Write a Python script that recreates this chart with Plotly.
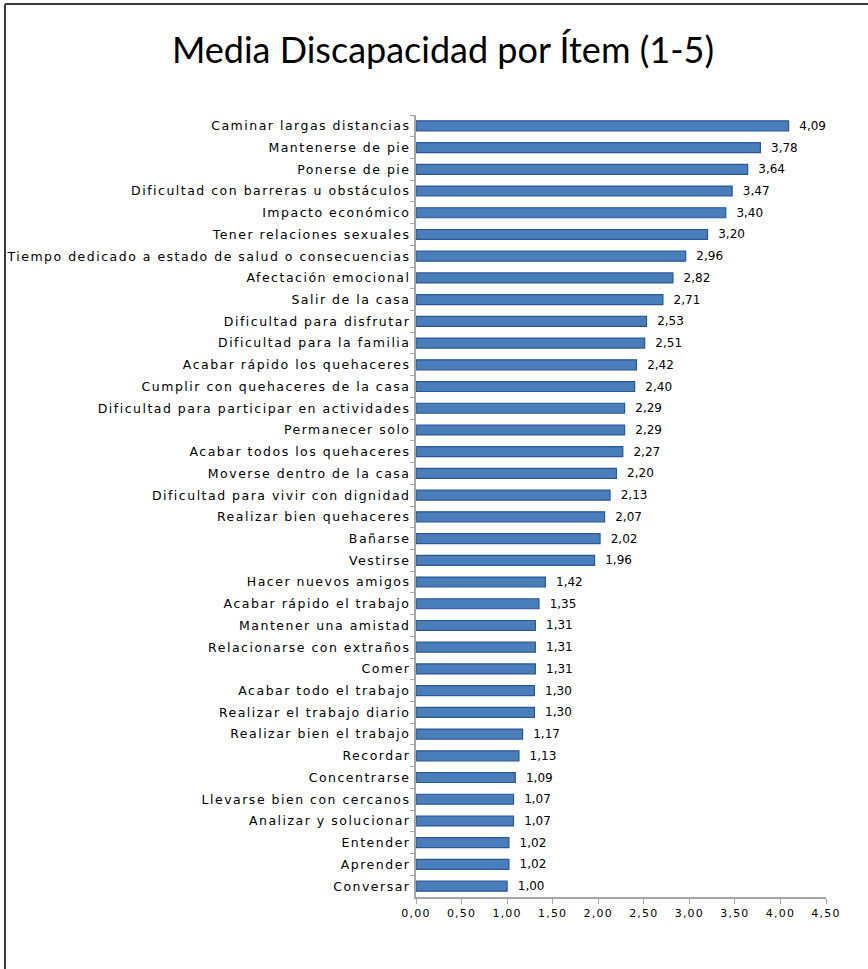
import plotly.graph_objects as go

categories = [
    "Caminar largas distancias", "Mantenerse de pie", "Ponerse de pie",
    "Dificultad con barreras u obstáculos", "Impacto económico",
    "Tener relaciones sexuales",
    "Tiempo dedicado a estado de salud o consecuencias",
    "Afectación emocional", "Salir de la casa", "Dificultad para disfrutar",
    "Dificultad para la familia", "Acabar rápido los quehaceres",
    "Cumplir con quehaceres de la casa",
    "Dificultad para participar en actividades", "Permanecer solo",
    "Acabar todos los quehaceres", "Moverse dentro de la casa",
    "Dificultad para vivir con dignidad", "Realizar bien quehaceres",
    "Bañarse", "Vestirse", "Hacer nuevos amigos", "Acabar rápido el trabajo",
    "Mantener una amistad", "Relacionarse con extraños", "Comer",
    "Acabar todo el trabajo", "Realizar el trabajo diario",
    "Realizar bien el trabajo", "Recordar", "Concentrarse",
    "Llevarse bien con cercanos", "Analizar y solucionar", "Entender",
    "Aprender", "Conversar",
]
values = [
    4.09, 3.78, 3.64, 3.47, 3.40, 3.20, 2.96, 2.82, 2.71, 2.53, 2.51, 2.42,
    2.40, 2.29, 2.29, 2.27, 2.20, 2.13, 2.07, 2.02, 1.96, 1.42, 1.35, 1.31,
    1.31, 1.31, 1.30, 1.30, 1.17, 1.13, 1.09, 1.07, 1.07, 1.02, 1.02, 1.00,
]
x_ticks = [0, 0.5, 1.0, 1.5, 2.0, 2.5, 3.0, 3.5, 4.0, 4.5]

W, H = 868, 969
L, R, T, B = 416, 42, 115, 72
pw = W - L - R
ph = H - T - B

fig = go.Figure(go.Bar(
    x=values, y=categories, orientation="h",
    width=0.46,
    marker=dict(color="#4A7EBB", line=dict(color="#2B5797", width=1.2)),
    texttemplate="  %{x:.2f}", textposition="outside", cliponaxis=False,
    constraintext="none",
    textfont=dict(family="DejaVu Sans", size=12, color="#000000"),
))

fig.update_layout(
    width=W, height=H,
    margin=dict(l=L, r=R, t=T, b=B, pad=0),
    paper_bgcolor="white", plot_bgcolor="white",
    separators=",.",
    showlegend=False,
    title=dict(text="Media Discapacidad por Ítem (1-5)",
               font=dict(family="Lato", size=36, color="#000000"),
               x=443 / W, xanchor="center", xref="container",
               y=1 - 50 / H, yanchor="middle", yref="container"),
    xaxis=dict(range=[0, 4.5], tickvals=x_ticks, tickformat=".2f",
               showgrid=False, zeroline=False, showline=True,
               linecolor="#A6A6A6", linewidth=2,
               ticks="outside", ticklen=5, tickcolor="#A6A6A6",
               tickfont=dict(family="DejaVu Sans", size=11, color="#000000"),
               ticklabelstandoff=0),
    yaxis=dict(categoryorder="array", categoryarray=categories,
               autorange="reversed",
               showgrid=False, zeroline=False, showline=True,
               linecolor="#A6A6A6", linewidth=2,
               ticks="outside", ticklen=4, tickcolor="#A6A6A6",
               tickson="boundaries",
               tickfont=dict(family="DejaVu Sans", size=12.5, color="#000000"),
               ticklabelstandoff=1),
    shapes=[
        dict(type="line", xref="paper", yref="paper",
             x0=(5 - L) / pw, x1=(5 - L) / pw,
             y0=-(990 - (H - B)) / ph, y1=((H - B) - 4) / ph,
             line=dict(color="#3A3A3A", width=2)),
        dict(type="line", xref="paper", yref="paper",
             x0=(5 - L) / pw, x1=(880 - L) / pw,
             y0=((H - B) - 4) / ph, y1=((H - B) - 4) / ph,
             line=dict(color="#3A3A3A", width=2)),
    ],
)

css = """
var s = document.createElement('style');
s.textContent = '.ytick text{letter-spacing:1.5px;} .xtick text{letter-spacing:1.2px;} .textpoint text{letter-spacing:1px;}';
document.head.appendChild(s);
"""
fig.write_html("out.html", post_script=css)
